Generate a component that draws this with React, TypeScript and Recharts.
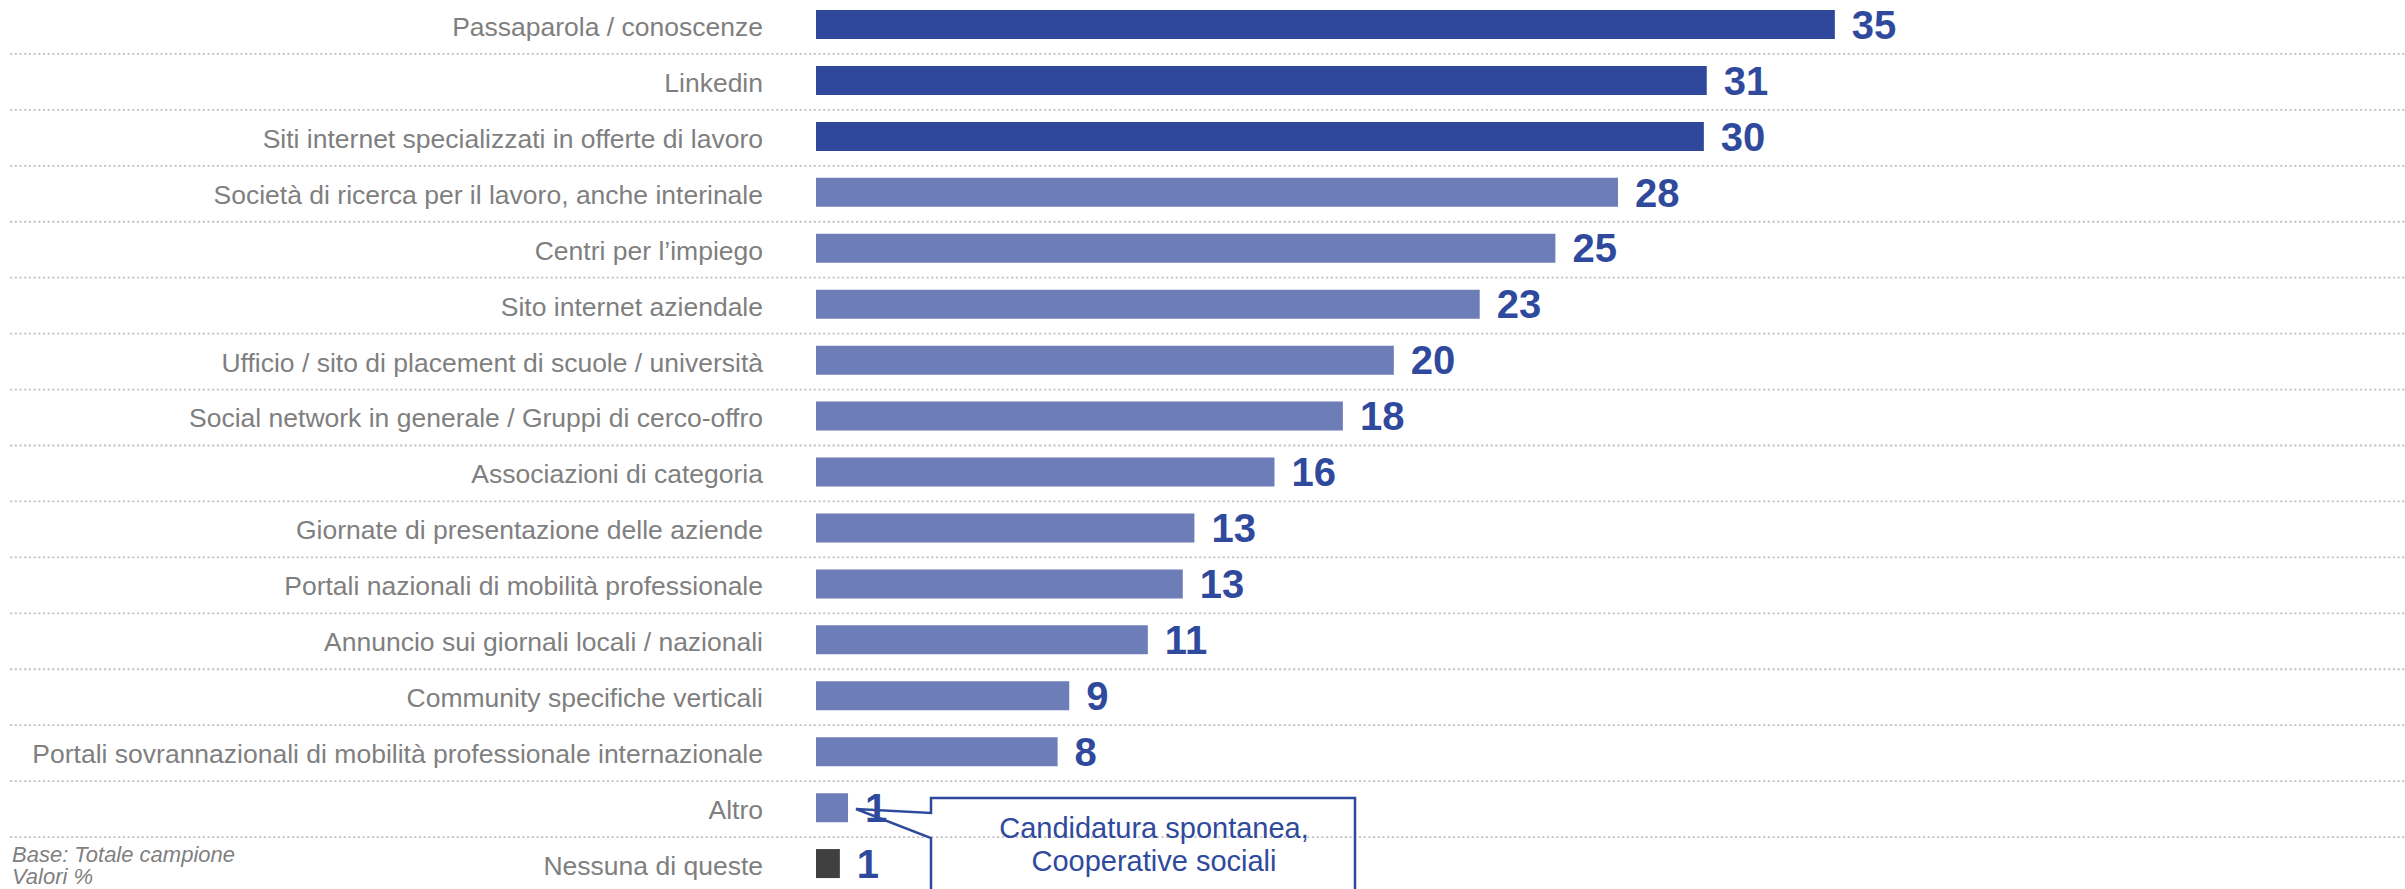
import { BarChart, Bar, XAxis, YAxis, CartesianGrid, Cell, LabelList } from 'recharts'

const categories = [
  'Passaparola / conoscenze',
  'Linkedin',
  'Siti internet specializzati in offerte di lavoro',
  'Società di ricerca per il lavoro, anche interinale',
  'Centri per l’impiego',
  'Sito internet aziendale',
  'Ufficio / sito di placement di scuole / università',
  'Social network in generale / Gruppi di cerco-offro',
  'Associazioni di categoria',
  'Giornate di presentazione delle aziende',
  'Portali nazionali di mobilità professionale',
  'Annuncio sui giornali locali / nazionali',
  'Community specifiche verticali',
  'Portali sovrannazionali di mobilità professionale internazionale',
  'Altro',
  'Nessuna di queste',
]

// percentages as drawn (bar lengths), and the rounded labels printed next to them
const values = [35, 30.6, 30.5, 27.55, 25.4, 22.8, 19.85, 18.1, 15.75, 13.0, 12.6, 11.4, 8.7, 8.3, 1.1, 0.82]
const labels = ['35', '31', '30', '28', '25', '23', '20', '18', '16', '13', '13', '11', '9', '8', '1', '1']

const data = categories.map((name, i) => ({ name, value: values[i], label: labels[i] }))

const DARK = '#30489B'
const LIGHT = '#6D7DB8'
const GREY = '#404040'
const FONT = 'Arial, "Liberation Sans", sans-serif'

const CHART_H = 895
const BAND = CHART_H / data.length

function barColor(name: string, i: number) {
  if (name === 'Nessuna di queste') return GREY
  return i < 3 ? DARK : LIGHT
}

// grid sits between the rows and runs under the category labels too
function GridLine(props: any) {
  if (props.y1 <= 1 || props.y1 >= CHART_H - 1) return <g key={props.key} />
  const y = props.y1 + BAND / 2 + 1
  return (
    <line
      key={props.key}
      x1={10}
      x2={2405}
      y1={y}
      y2={y}
      stroke="#C4C4C4"
      strokeWidth={1.8}
      strokeDasharray="2.2 2.5"
    />
  )
}

export default function App() {
  return (
    <div
      style={{
        position: 'absolute',
        left: 0,
        top: 0,
        width: 2405,
        height: 889,
        overflow: 'hidden',
        background: '#fff',
        fontFamily: FONT,
      }}
    >
      <div style={{ position: 'absolute', left: 0, top: -3.5 }}>
        <BarChart
          width={2405}
          height={CHART_H}
          data={data}
          layout="vertical"
          margin={{ top: 0, right: 133.5, bottom: 0, left: 0 }}
        >
          <CartesianGrid vertical={false} horizontal={GridLine} />
          <XAxis type="number" hide domain={[0, 50]} />
          <YAxis
            type="category"
            dataKey="name"
            width={816}
            interval={0}
            tickSize={0}
            tickMargin={53}
            axisLine={false}
            tickLine={false}
            tick={{ fill: '#7F7F7F', fontSize: 26.5, fontFamily: FONT, dy: 1.5 }}
          />
          <Bar dataKey="value" barSize={29} isAnimationActive={false}>
            {data.map((d, i) => (
              <Cell key={d.name} fill={barColor(d.name, i)} />
            ))}
            <LabelList
              dataKey="label"
              position="right"
              offset={17}
              fill="#2F4A9C"
              fontSize={40}
              fontWeight="bold"
              fontFamily={FONT}
            />
          </Bar>
        </BarChart>
      </div>

      {/* callout + footnote */}
      <svg
        width={2405}
        height={889}
        style={{ position: 'absolute', left: 0, top: 0, pointerEvents: 'none' }}
      >
        <path
          d="M931 895 L931 838 L856 809 L931 813 L931 798 L1355 798 L1355 895"
          fill="none"
          stroke="#2F4A9C"
          strokeWidth={2.5}
        />
        <text x={1154} y={838} textAnchor="middle" fill="#2F4A9C" fontSize={29} fontFamily={FONT}>
          Candidatura spontanea,
        </text>
        <text x={1154} y={871} textAnchor="middle" fill="#2F4A9C" fontSize={29} fontFamily={FONT}>
          Cooperative sociali
        </text>
        <text x={12} y={862} fill="#7F7F7F" fontSize={22} fontStyle="italic" fontFamily={FONT}>
          Base: Totale campione
        </text>
        <text x={12} y={884} fill="#7F7F7F" fontSize={22} fontStyle="italic" fontFamily={FONT}>
          Valori %
        </text>
      </svg>
    </div>
  )
}
